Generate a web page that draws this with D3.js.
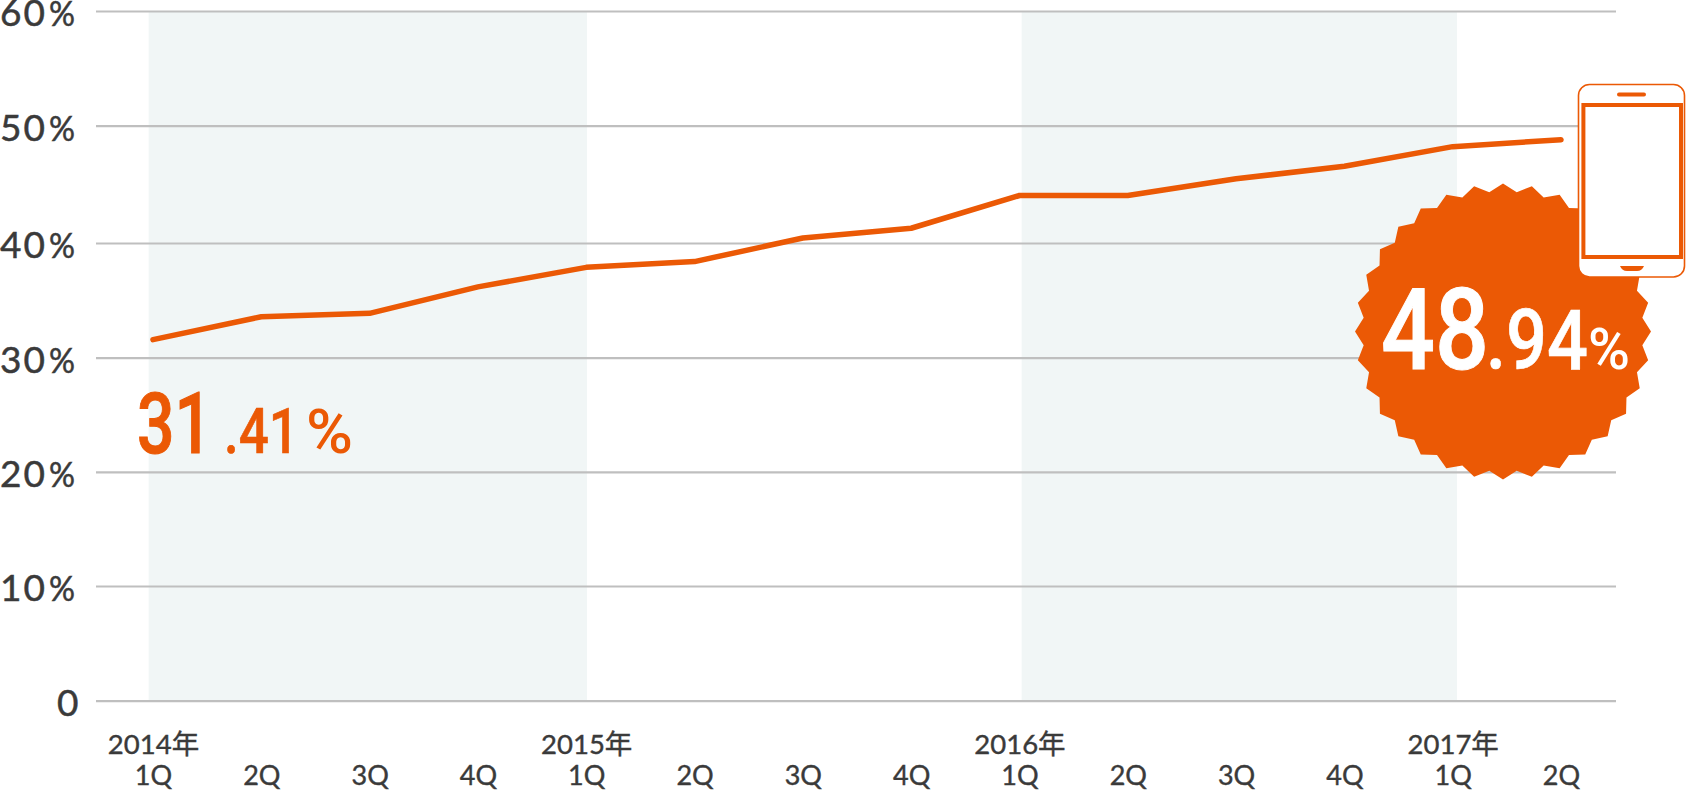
<!DOCTYPE html>
<html><head><meta charset="utf-8">
<script src="https://cdn.jsdelivr.net/npm/d3@7"></script>
<style>html,body{margin:0;padding:0;background:#fff;overflow:hidden}svg{display:block}</style>
</head><body><div id="chart"></div>
<script>
const quarters=["1Q","2Q","3Q","4Q","1Q","2Q","3Q","4Q","1Q","2Q","3Q","4Q","1Q","2Q"];
const years=["2014年","","","","2015年","","","","2016年","","","","2017年",""];
const share=[31.41,33.4,33.7,36.0,37.7,38.2,40.25,41.1,43.95,43.95,45.4,46.5,48.2,48.8];
const yTicks=[0,10,20,30,40,50,60];
const yearBands=[[-0.04,4.007],[8.02,12.04]];
const orange="#eb5905", ink="#3a3a3a", grid="#bfbfbf", bandFill="#f1f6f6";
const W=1687,H=791;
const svg=d3.select("#chart").append("svg").attr("width",W).attr("height",H);
const x=d3.scaleLinear().domain([0,13]).range([153,1561]);
const y=d3.scaleLinear().domain([0,60]).range([700.7,11]);
// the reference's rules sit slightly unevenly
const yRule=d3.scaleLinear().domain(yTicks).range([700.7,586,471.8,357.7,243,125.7,11]);

svg.selectAll("rect.band").data(yearBands).join("rect").attr("class","band")
  .attr("x",d=>x(d[0])).attr("width",d=>x(d[1])-x(d[0]))
  .attr("y",y(60)).attr("height",y(0)-y(60)).attr("fill",bandFill);

const yAxis=d3.axisLeft(yRule).tickValues(yTicks).tickSize(0).tickFormat(d=>d);
const gy=svg.append("g").call(yAxis);
gy.select(".domain").remove();
gy.selectAll(".tick line").attr("x1",96).attr("x2",1616).attr("stroke",grid).attr("stroke-width",2.2);
gy.selectAll(".tick").each(function(d){
  const tick=d3.select(this);
  const style=s=>s.attr("dy",null).attr("y",14.5).attr("text-anchor","start")
    .attr("fill",ink).attr("stroke",ink).attr("stroke-width",0.5)
    .attr("font-family","Lato").attr("font-size",37);
  const t=tick.select("text").call(style).attr("letter-spacing",2).attr("x",0);
  if(d===0){t.attr("x",57);}
  else{
    tick.append("text").text("%").call(style).attr("font-size",35).attr("x",49)
      .attr("textLength",26).attr("lengthAdjust","spacingAndGlyphs");
  }
});

const xAxis=d3.axisBottom(x).tickValues(d3.range(quarters.length)).tickSize(0).tickFormat(i=>quarters[i]);
const gx=svg.append("g").call(xAxis);
gx.select(".domain").remove();
gx.selectAll(".tick text").attr("y",785).attr("dy",null).attr("fill",ink)
  .attr("stroke",ink).attr("stroke-width",0.4)
  .attr("font-family","Lato").attr("font-size",27);
gx.selectAll(".tick").append("text").text(i=>years[i]).attr("y",754).attr("text-anchor","middle")
  .attr("fill",ink).attr("stroke",ink).attr("stroke-width",0.4)
  .attr("font-family","Lato,'Noto Sans CJK JP'").attr("font-size",27.5);

const line=d3.line().x((d,i)=>x(i)).y(d=>y(d));
svg.append("path").datum(share).attr("d",line).attr("fill","none").attr("stroke",orange)
  .attr("stroke-width",5.5).attr("stroke-linecap","round").attr("stroke-linejoin","round");

function big(s,xp,yp,size,w,fill,sw){
  svg.append("text").text(s).attr("x",xp).attr("y",yp).attr("font-size",size)
    .attr("font-family","Roboto").attr("font-weight",500).attr("fill",fill)
    .attr("stroke",fill).attr("stroke-width",sw)
    .attr("textLength",w).attr("lengthAdjust","spacingAndGlyphs");
}
big("31",137,453,86,75,orange,1);
big(".41",224,453,63,75,orange,0.6);
big("%",306,453,62,47,orange,0);

const burstTips=32,cx=1503,cy=331.5;
const radial=d3.lineRadial().curve(d3.curveLinearClosed)
  .angle(d=>d[0]).radius(d=>d[1]);
const burst=d3.range(burstTips*2).map(i=>[i*Math.PI/burstTips,i%2?140:148]);
svg.append("path").attr("transform",`translate(${cx},${cy})`).attr("d",radial(burst)).attr("fill",orange);

svg.append("rect").attr("x",1578.5).attr("y",84.5).attr("width",106).attr("height",192.5).attr("rx",11)
  .attr("fill","#fff").attr("stroke",orange).attr("stroke-width",1.6);
svg.append("rect").attr("x",1583.4).attr("y",105).attr("width",97.6).attr("height",152)
  .attr("fill","#fff").attr("stroke",orange).attr("stroke-width",4);
svg.append("rect").attr("x",1617).attr("y",92.5).attr("width",29).attr("height",4).attr("rx",2).attr("fill",orange);
svg.append("path").attr("d","M1620 266H1644Q1642 271 1637 271H1627Q1622 271 1620 266Z").attr("fill",orange);

big("48",1381,369,114,108,"#fff",1);
big(".94",1486,369,84,102,"#fff",0.6);
big("%",1588,369,58,42,"#fff",0);
</script></body></html>
